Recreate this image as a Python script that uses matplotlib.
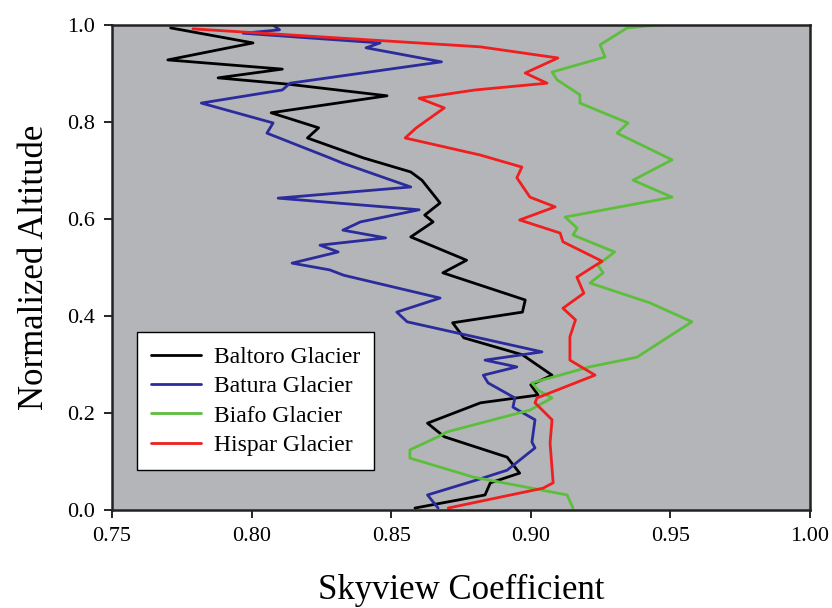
import matplotlib
matplotlib.use('Agg')
import matplotlib.pyplot as plt

# Altitud normalizada (y) y coeficiente de vista al cielo (x) de cada glaciar
baltoro_alt = [0.994, 0.963, 0.928, 0.909, 0.891, 0.878, 0.854, 0.819, 0.788, 0.767,
               0.726, 0.697, 0.680, 0.633, 0.608, 0.594, 0.563, 0.515, 0.489, 0.433,
               0.408, 0.386, 0.355, 0.320, 0.278, 0.258, 0.237, 0.221, 0.179, 0.151,
               0.109, 0.076, 0.056, 0.031, 0.004]
baltoro_sky = [0.771, 0.8005, 0.770, 0.811, 0.788, 0.813, 0.8485, 0.807, 0.824, 0.820,
               0.840, 0.857, 0.861, 0.8675, 0.862, 0.865, 0.857, 0.877, 0.8685, 0.898,
               0.897, 0.872, 0.876, 0.897, 0.9076, 0.900, 0.9026, 0.882, 0.863, 0.869,
               0.8915, 0.896, 0.8855, 0.8836, 0.8585]

batura_alt = [1.0, 0.99, 0.983, 0.963, 0.953, 0.924, 0.880, 0.866, 0.839, 0.798,
              0.777, 0.726, 0.715, 0.666, 0.643, 0.619, 0.594, 0.577, 0.561, 0.546,
              0.532, 0.509, 0.495, 0.484, 0.437, 0.408, 0.388, 0.326, 0.309, 0.295,
              0.278, 0.262, 0.231, 0.212, 0.186, 0.140, 0.128, 0.082, 0.062, 0.031, 0.004]
batura_sky = [0.8077, 0.810, 0.797, 0.846, 0.841, 0.868, 0.8138, 0.811, 0.782, 0.8077,
              0.8055, 0.828, 0.8327, 0.857, 0.8095, 0.860, 0.839, 0.8327, 0.848, 0.8245,
              0.831, 0.8145, 0.828, 0.833, 0.8675, 0.852, 0.8557, 0.904, 0.8836, 0.895,
              0.883, 0.8847, 0.8943, 0.8936, 0.9015, 0.9004, 0.9015, 0.8915, 0.8807, 0.863, 0.8668]

biafo_alt = [1.0, 0.994, 0.959, 0.934, 0.903, 0.887, 0.856, 0.839, 0.798, 0.777,
             0.722, 0.680, 0.645, 0.604, 0.581, 0.567, 0.532, 0.505, 0.489, 0.468,
             0.427, 0.388, 0.315, 0.295, 0.262, 0.247, 0.231, 0.206, 0.161, 0.151,
             0.124, 0.107, 0.068, 0.031, 0.004]
biafo_sky = [0.9456, 0.9345, 0.9248, 0.9266, 0.9076, 0.9094, 0.9176, 0.9176, 0.9348, 0.9309,
             0.9506, 0.9366, 0.9506, 0.9123, 0.9166, 0.9151, 0.930, 0.924, 0.9259, 0.9212,
             0.9427, 0.9577, 0.938, 0.921, 0.9004, 0.9026, 0.9076, 0.8997, 0.870, 0.8668,
             0.8567, 0.8567, 0.8793, 0.913, 0.9151]

hispar_alt = [0.992, 0.955, 0.932, 0.901, 0.880, 0.866, 0.849, 0.829, 0.788, 0.767,
              0.732, 0.707, 0.685, 0.645, 0.625, 0.598, 0.571, 0.553, 0.513, 0.480,
              0.447, 0.416, 0.392, 0.357, 0.309, 0.278, 0.231, 0.221, 0.186, 0.138,
              0.056, 0.045, 0.004]
hispar_sky = [0.779, 0.8818, 0.9097, 0.898, 0.9058, 0.880, 0.860, 0.869, 0.859, 0.855,
              0.8818, 0.8968, 0.895, 0.8997, 0.9087, 0.896, 0.9105, 0.9115, 0.9255, 0.9165,
              0.919, 0.9115, 0.916, 0.914, 0.914, 0.923, 0.9022, 0.9015, 0.9076, 0.9069,
              0.908, 0.9044, 0.8704]

series = [
    ('Baltoro Glacier', baltoro_sky, baltoro_alt, 'black'),
    ('Batura Glacier', batura_sky, batura_alt, '#2b2b9c'),
    ('Biafo Glacier', biafo_sky, biafo_alt, '#5cbf3c'),
    ('Hispar Glacier', hispar_sky, hispar_alt, '#f01e1e'),
]

x_ticks = [0.75, 0.80, 0.85, 0.90, 0.95, 1.00]
y_ticks = [0.0, 0.2, 0.4, 0.6, 0.8, 1.0]

plt.rcParams['font.family'] = ['Liberation Serif', 'DejaVu Serif']

fig = plt.figure(figsize=(8.32, 6.08), dpi=100)
ax = fig.add_axes([0.1346, 0.1612, 0.8390, 0.7977])
ax.set_facecolor('#b4b5b8')

for nombre, sky, alt, color in series:
    ax.plot(sky, alt, color=color, lw=2, label=nombre,
            solid_joinstyle='round', solid_capstyle='round')

ax.set_xlim(0.75, 1.00)
ax.set_ylim(0.0, 1.0)
ax.set_xticks(x_ticks)
ax.set_xticklabels([f'{v:.2f}' for v in x_ticks])
ax.set_yticks(y_ticks)
ax.set_yticklabels([f'{v:.1f}' for v in y_ticks])
ax.tick_params(direction='out', length=6, width=1.2, labelsize=16, pad=6)
for s in ax.spines.values():
    s.set_linewidth(1.8)
    s.set_color('#222222')

ax.set_xlabel('Skyview Coefficient', fontsize=25, labelpad=20)
ax.set_ylabel('Normalized Altitude', fontsize=25, labelpad=12)

leg = ax.legend(loc='lower left', bbox_to_anchor=(0.036, 0.082), fontsize=17,
                frameon=True, fancybox=False, edgecolor='black', framealpha=1,
                handlelength=2.1, handletextpad=0.55, borderpad=0.6,
                labelspacing=0.33, borderaxespad=0.0)
leg.get_frame().set_linewidth(1.0)

fig.savefig('out.png', dpi=100)
